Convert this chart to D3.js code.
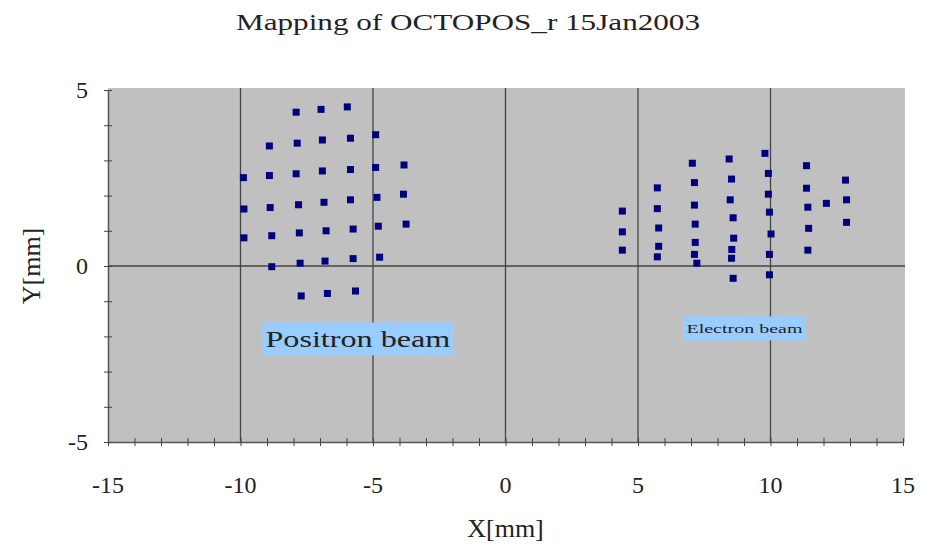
<!DOCTYPE html>
<html>
  <head>
    <meta charset="utf-8">
    <title>Mapping of OCTOPOS_r 15Jan2003</title>
    <style media="screen">
      body {
        margin: 0;
        background: #fff;
      }
      text {
        font-family: "Liberation Serif", "Times New Roman", serif;
        fill: #222;
      }
    </style>
  </head>
  <body>
    <div id="chart"></div>
  </body>
  <script type="text/javascript" src="https://cdnjs.cloudflare.com/ajax/libs/d3/7.8.5/d3.min.js"></script>
  <script type="text/javascript">
  // positron beam scan points in mm
  var positronX = [-7.90, -6.96, -5.97,
    -8.91, -7.86, -6.91, -5.85, -4.90,
    -9.89, -8.91, -7.90, -6.91, -5.85, -4.90, -3.83,
    -9.87, -8.88, -7.81, -6.85, -5.85, -4.85, -3.85,
    -9.87, -8.82, -7.78, -6.77, -5.75, -4.80, -3.75,
    -8.82, -7.75, -6.81, -5.75, -4.75,
    -7.71, -6.72, -5.66];
  var positronY = [4.37, 4.45, 4.52,
    3.41, 3.49, 3.58, 3.63, 3.73,
    2.51, 2.57, 2.62, 2.70, 2.74, 2.80, 2.87,
    1.62, 1.66, 1.74, 1.81, 1.88, 1.95, 2.04,
    0.80, 0.86, 0.94, 1.00, 1.05, 1.13, 1.19,
    -0.02, 0.08, 0.14, 0.21, 0.25,
    -0.85, -0.78, -0.71];
  // electron beam scan points
  var electronX = [4.41, 4.41, 4.41,
    5.73, 5.73, 5.78, 5.78, 5.73,
    7.05, 7.13, 7.13, 7.16, 7.16, 7.13, 7.22,
    8.44, 8.53, 8.48, 8.59, 8.61, 8.54, 8.53, 8.59,
    9.79, 9.92, 9.92, 9.96, 10.02, 9.96, 9.96,
    11.36, 11.36, 11.41, 11.44, 11.41,
    12.11,
    12.83, 12.87, 12.87];
  var electronY = [1.56, 0.97, 0.45,
    2.22, 1.63, 1.08, 0.56, 0.26,
    2.92, 2.37, 1.73, 1.19, 0.67, 0.33, 0.08,
    3.04, 2.47, 1.88, 1.37, 0.79, 0.47, 0.22, -0.35,
    3.20, 2.63, 2.04, 1.53, 0.91, 0.33, -0.25,
    2.85, 2.21, 1.67, 1.07, 0.45,
    1.78,
    2.44, 1.88, 1.24];

  var xTicks = [-15, -10, -5, 0, 5, 10, 15];
  var yTicks = [-5, 0, 5];
  var xMinor = d3.range(-15, 16, 1);
  var yMinor = d3.range(-5, 6, 1);

  var w = 931, h = 547;
  var pLeft = 108, pRight = 903, pTop = 90, pBottom = 442;

  var x = d3.scaleLinear().domain([-15, 15]).range([pLeft, pRight]);
  var y = d3.scaleLinear().domain([-5, 5]).range([pBottom, pTop]);

  var svg = d3.select('#chart').append('svg').attr('width', w).attr('height', h);

  svg.append('text').attr('x', 468).attr('y', 30)
     .style('text-anchor', 'middle').style('font-size', '23px')
     .attr('textLength', 464).attr('lengthAdjust', 'spacingAndGlyphs')
     .text('Mapping of OCTOPOS_r 15Jan2003');

  svg.append('rect').attr('x', pLeft).attr('y', pTop - 2)
     .attr('width', pRight - pLeft + 2).attr('height', pBottom - pTop + 2)
     .style('fill', '#c0c0c0');

  // major grid lines
  var grid = svg.append('g').attr('class', 'grid');
  grid.selectAll('.vx').data(xTicks.slice(1, -1)).enter().append('line')
      .attr('x1', d => x(d)).attr('x2', d => x(d))
      .attr('y1', pTop - 2).attr('y2', pBottom)
      .style('stroke', '#444').style('stroke-width', 1.3);
  grid.selectAll('.hy').data([0]).enter().append('line')
      .attr('x1', pLeft).attr('x2', pRight + 2)
      .attr('y1', d => y(d)).attr('y2', d => y(d))
      .style('stroke', '#444').style('stroke-width', 1.3);

  // axes, ticks cross the line
  var xAxis = d3.axisBottom(x).tickValues(xMinor).tickSize(0).tickFormat('');
  var gx = svg.append('g').attr('transform', 'translate(0,' + pBottom + ')').call(xAxis);
  gx.select('.domain').style('stroke', '#555').style('stroke-width', 1.5);
  gx.selectAll('.tick line').attr('y1', -4).attr('y2', 4).style('stroke', '#444');
  svg.append('g').selectAll('text').data(xTicks).enter().append('text')
    .attr('x', d => x(d)).attr('y', pBottom + 51)
    .style('text-anchor', 'middle').style('font-size', '24px')
    .text(d => d);

  var yAxis = d3.axisLeft(y).tickValues(yMinor).tickSize(0).tickFormat('');
  var gy = svg.append('g').attr('transform', 'translate(' + pLeft + ',0)').call(yAxis);
  gy.select('.domain').style('stroke', '#555').style('stroke-width', 1.5);
  gy.selectAll('.tick line').attr('x1', -4).attr('x2', 4).style('stroke', '#444');
  svg.append('g').selectAll('text').data(yTicks).enter().append('text')
    .attr('x', pLeft - 20).attr('y', d => y(d) + 8)
    .style('text-anchor', 'end').style('font-size', '24px')
    .text(d => d);

  svg.append('text').attr('x', x(0)).attr('y', 537)
     .style('text-anchor', 'middle').style('font-size', '26px').text('X[mm]');
  svg.append('text').attr('transform', 'translate(40,' + y(0) + ') rotate(-90)')
     .style('text-anchor', 'middle').style('font-size', '26px').text('Y[mm]');

  // points
  var pts = svg.append('g').attr('class', 'points');
  function plot(xs, ys) {
    pts.selectAll(null).data(xs).enter().append('rect')
       .attr('x', (d, i) => x(d) - 3.5).attr('y', (d, i) => y(ys[i]) - 3.5)
       .attr('width', 7).attr('height', 7)
       .style('fill', '#00007f');
  }
  plot(positronX, positronY);
  plot(electronX, electronY);

  // beam labels
  function label(txt, dx, dy, size, len, pw, ph) {
    var g = svg.append('g');
    var t = g.append('text').attr('x', x(dx)).attr('y', y(dy))
             .style('font-size', size + 'px')
             .attr('textLength', len).attr('lengthAdjust', 'spacingAndGlyphs')
             .text(txt);
    var b = t.node().getBBox();
    g.insert('rect', 'text').attr('x', b.x - pw).attr('y', b.y - ph)
     .attr('width', b.width + 2 * pw).attr('height', b.height + 2 * ph)
     .style('fill', '#99ccff');
  }
  label('Positron beam', -9.06, -2.3, 24, 185, 3, 3.5);
  label('Electron beam', 6.83, -1.9, 13, 116, 3, 4.5);
  </script>
</html>
